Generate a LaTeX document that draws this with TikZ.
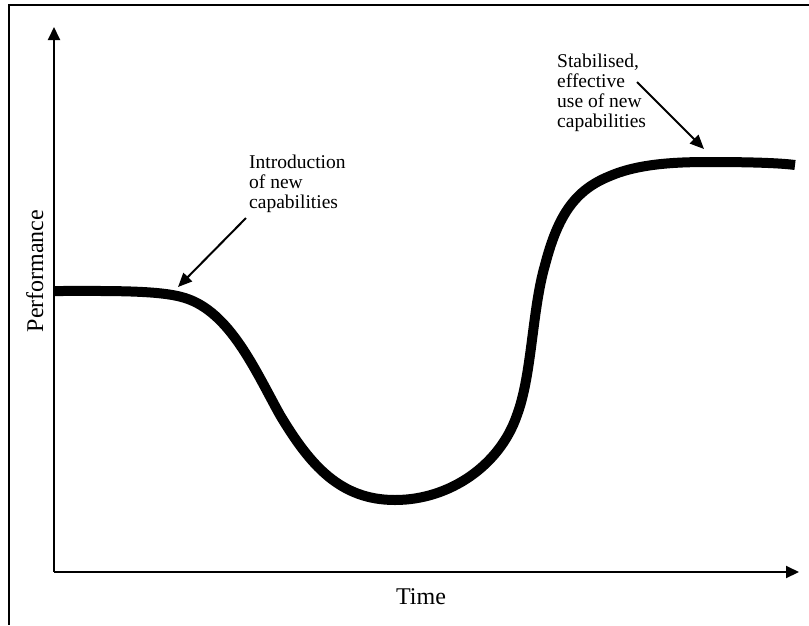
\documentclass[tikz,border=0pt]{standalone}
\usepackage{fontspec}
\setmainfont{Liberation Serif}
\usetikzlibrary{arrows.meta}
\begin{document}
\begin{tikzpicture}[x=1pt,y=-1pt,
  axis/.style={line width=2pt,-{Triangle[length=13pt,width=12pt]}},
  pointer/.style={line width=2pt,-{Triangle[length=14pt,width=12pt]}},
  curve/.style={line width=10pt},
  note/.style={inner sep=0pt,align=left,font=\fontsize{19.5}{20}\selectfont},
  axlabel/.style={inner sep=0pt,font=\fontsize{24}{26}\selectfont}]
\useasboundingbox (0,0) rectangle (809,625);
% frame (top and left edges)
\draw[line width=1.3pt] (809,5) -- (9,5) -- (9,625);
% axes
\coordinate (o) at (54,572);
\coordinate (ytip) at (54,27);
\coordinate (xtip) at (799,572);
\draw[axis] (o) -- (ytip);
\draw[axis] (o) -- (xtip);
% performance curve
\draw[curve] (54,291)
  .. controls (110,291) and (160,290) .. (185,298)
  .. controls (230,312) and (255,370) .. (280,415)
  .. controls (310,465) and (340,500) .. (395,500)
  .. controls (450,500) and (500,465) .. (517,415)
  .. controls (532,375) and (532,310) .. (545,265)
  .. controls (558,215) and (575,190) .. (610,176)
  .. controls (640,163) and (680,162) .. (710,162)
  .. controls (750,162) and (780,163) .. (795,165);
% annotations (base anchor sits on the last line)
\node[note,anchor=base west] (intro) at (249,208) {Introduction\\of new\\capabilities};
\coordinate (introtip) at (178,287);
\draw[pointer] (246,218) -- (introtip);
\node[note,anchor=base west] (stab) at (557,127) {Stabilised,\\effective\\use of new\\capabilities};
\coordinate (stabtip) at (704,149);
\draw[pointer] (637,82) -- (stabtip);
% axis labels
\node[axlabel,rotate=90,anchor=base] (perf) at (43,271) {Performance};
\node[axlabel,anchor=base] (time) at (421,604) {Time};
\end{tikzpicture}
\end{document}
